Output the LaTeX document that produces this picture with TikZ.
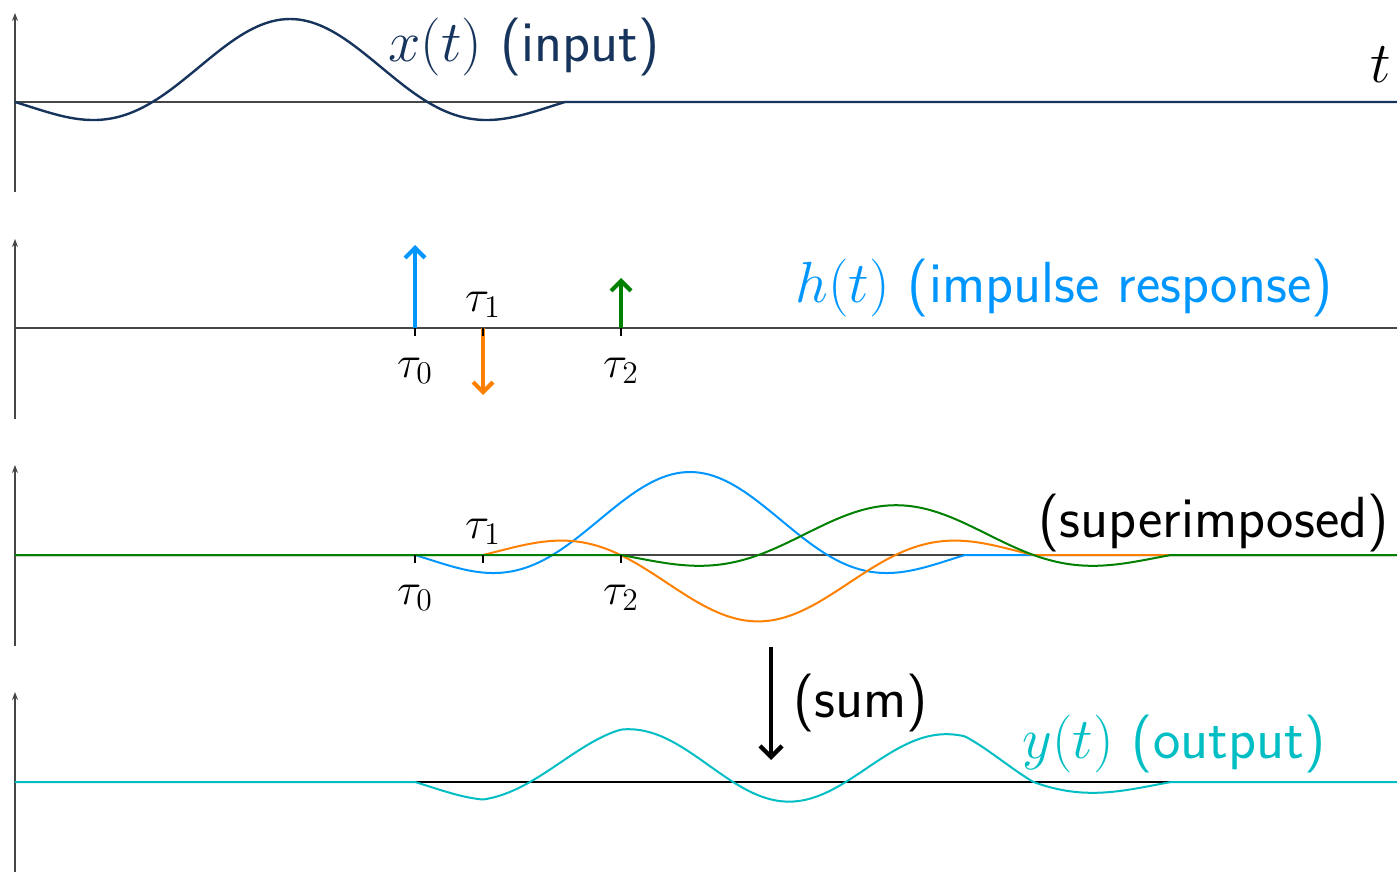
\RequirePackage{fix-cm}
\documentclass[tikz,border=0pt]{standalone}
\usepackage{fontspec}
\usetikzlibrary{arrows.meta}
\definecolor{xcol}{RGB}{22,52,92}
\definecolor{bcol}{RGB}{0,150,255}
\definecolor{ocol}{RGB}{255,128,0}
\definecolor{gcol}{RGB}{0,128,0}
\definecolor{ycol}{RGB}{0,190,195}
\definecolor{axcol}{RGB}{70,70,70}
\pgfmathdeclarefunction{sinc}{1}{%
  \pgfmathparse{abs(#1)}%
  \ifdim\pgfmathresult pt<0.0005pt
    \def\pgfmathresult{1}%
  \else
    \ifdim\pgfmathresult pt>2pt
      \def\pgfmathresult{0}%
    \else
      \pgfmathparse{sin(180*(#1))/(pi*(#1))}%
    \fi
  \fi}
\begin{document}
\begin{tikzpicture}[x=0.5pt,y=-0.5pt,
  haxis/.style={axcol, line width=0.65pt},
  vaxis/.style={axcol, line width=0.65pt, -{Stealth[length=4pt,width=3pt]}},
  sig/.style={line width=1pt},
  imp/.style={line width=2.1pt, -{Straight Barb[length=5pt,width=10pt]}},
  lab/.style={font=\sffamily\fontsize{29}{35}\selectfont, inner sep=0pt},
  taulab/.style={font=\fontsize{22.5}{27}\selectfont, inner sep=0pt, anchor=base},
  tickmark/.style={black, line width=0.8pt}]
\useasboundingbox (0,0) rectangle (1397,872);

% ---------- panel 1 : input ----------
\coordinate (o1) at (15,102); \coordinate (e1) at (1397,102);
\coordinate (b1) at (15,192); \coordinate (t1) at (15,13);
\draw[haxis] (o1) -- (e1);
\draw[vaxis] (b1) -- (t1);
\draw[sig, xcol, line width=1.2pt] plot[domain=15:565, samples=121] (\x, {102-83*sinc((\x-290)/137.5)}) -- (e1);
\node[lab, xcol, anchor=base west] (xl) at (388,62) {$x(t)$ (input)};
\node[lab, anchor=base] (tl) at (1381,83) {$t$};

% ---------- panel 2 : impulse response ----------
\coordinate (o2) at (15,328); \coordinate (e2) at (1397,328);
\coordinate (b2) at (15,419); \coordinate (t2) at (15,239);
\draw[haxis] (o2) -- (e2);
\draw[vaxis] (b2) -- (t2);
\coordinate (p0) at (415,328); \coordinate (q0) at (415,245);
\coordinate (p1) at (483,328); \coordinate (q1) at (483,395);
\coordinate (p2) at (621,328); \coordinate (q2) at (621,278);
\draw[imp, bcol] (p0) -- (q0);
\draw[imp, ocol] (p1) -- (q1);
\draw[imp, gcol] (p2) -- (q2);
\coordinate (k0) at (415,336); \coordinate (k1) at (483,336); \coordinate (k2) at (621,336);
\draw[tickmark] (p0) -- (k0);
\draw[tickmark] (p1) -- (k1);
\draw[tickmark] (p2) -- (k2);
\node[taulab] (tau0a) at (415,377) {$\tau_0$};
\node[taulab] (tau1a) at (483,311) {$\tau_1$};
\node[taulab] (tau2a) at (621,377) {$\tau_2$};
\node[lab, bcol, anchor=base west] (hl) at (795,302) {$h(t)$ (impulse response)};

% ---------- panel 3 : superimposed ----------
\coordinate (o3) at (15,555); \coordinate (e3) at (1397,555);
\coordinate (b3) at (15,646); \coordinate (t3) at (15,465);
\draw[haxis] (o3) -- (e3);
\draw[vaxis] (b3) -- (t3);
\draw[sig, bcol] (o3) -- plot[domain=415:965, samples=121] (\x, {555-83*sinc((\x-690)/137.5)}) -- (e3);
\draw[sig, ocol] (o3) -- plot[domain=483:1033, samples=121] (\x, {555+66.4*sinc((\x-758)/137.5)}) -- (e3);
\draw[sig, gcol] (o3) -- plot[domain=621:1171, samples=121] (\x, {555-49.8*sinc((\x-896)/137.5)}) -- (e3);
\coordinate (r0) at (415,555); \coordinate (s0) at (415,563);
\coordinate (r1) at (483,555); \coordinate (s1) at (483,563);
\coordinate (r2) at (621,555); \coordinate (s2) at (621,563);
\draw[tickmark] (r0) -- (s0);
\draw[tickmark] (r1) -- (s1);
\draw[tickmark] (r2) -- (s2);
\node[taulab] (tau0b) at (415,604) {$\tau_0$};
\node[taulab] (tau1b) at (483,538) {$\tau_1$};
\node[taulab] (tau2b) at (621,604) {$\tau_2$};
\node[lab, anchor=base east] (sl) at (1389,537) {(superimposed)};

% ---------- sum arrow ----------
\coordinate (sa) at (771,647); \coordinate (sb) at (771,760);
\draw[line width=2.2pt, -{Straight Barb[length=5.5pt,width=11pt]}] (sa) -- (sb);
\node[lab, anchor=base west] (suml) at (793,717) {(sum)};

% ---------- panel 4 : output ----------
\coordinate (o4) at (15,782); \coordinate (e4) at (1397,782);
\coordinate (b4) at (15,874); \coordinate (t4) at (15,692);
\draw[line width=0.65pt, black] (o4) -- (e4);
\draw[vaxis] (b4) -- (t4);
\draw[sig, ycol] (o4) -- plot[domain=415:1171, samples=241] (\x, {782-83*(sinc((\x-690)/137.5)-0.8*sinc((\x-758)/137.5)+0.6*sinc((\x-896)/137.5))}) -- (e4);
\node[lab, ycol, anchor=base west] (yl) at (1022,758) {$y(t)$ (output)};
\end{tikzpicture}
\end{document}
